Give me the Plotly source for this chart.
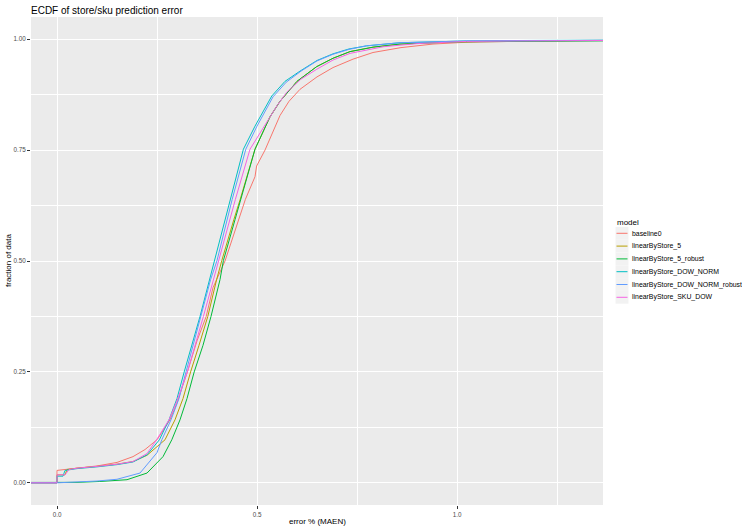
import plotly.graph_objects as go

# ---------------- data ----------------
models = ["baseline0", "linearByStore_5", "linearByStore_5_robust",
          "linearByStore_DOW_NORM", "linearByStore_DOW_NORM_robust",
          "linearByStore_SKU_DOW"]

baseline0_x = [-1, 0, 0, 0.05, 0.10, 0.15, 0.19, 0.22, 0.25, 0.2825, 0.30, 0.326, 0.35, 0.373,
               0.39, 0.42, 0.454, 0.471, 0.495, 0.499, 0.52, 0.5575, 0.58, 0.6075, 0.65, 0.69,
               0.74, 0.79, 0.86, 0.94, 1.02, 1.1075, 1.2, 1.3, 2]
baseline0_y = [0, 0, 0.028, 0.033, 0.038, 0.046, 0.059, 0.075, 0.097, 0.142, 0.18, 0.25, 0.32,
               0.375, 0.44, 0.50, 0.593, 0.639, 0.69, 0.714, 0.75, 0.828, 0.86, 0.887, 0.915,
               0.936, 0.955, 0.970, 0.981, 0.989, 0.993, 0.995, 0.996, 0.997, 1.0]

lbs5_x = [-1, 0, 0, 0.02, 0.025, 0.05, 0.10, 0.15, 0.19, 0.225, 0.27, 0.295, 0.315, 0.334,
          0.355, 0.377, 0.399, 0.412, 0.442, 0.458, 0.495, 0.5325, 0.5575, 0.60, 0.649, 0.69,
          0.7325, 0.79, 0.8575, 1.0, 1.15, 1.3, 2]
lbs5_y = [0, 0, 0.018, 0.018, 0.030, 0.033, 0.037, 0.042, 0.048, 0.062, 0.097, 0.142, 0.19,
          0.25, 0.31, 0.375, 0.458, 0.501, 0.593, 0.639, 0.752, 0.825, 0.86, 0.905, 0.938,
          0.957, 0.972, 0.982, 0.989, 0.994, 0.996, 0.997, 1.0]

lbs5r_x = [-1, 0, 0.05, 0.107, 0.175, 0.225, 0.265, 0.287, 0.3075, 0.325, 0.343, 0.365, 0.385,
           0.4075, 0.416, 0.445, 0.46, 0.495, 0.5325, 0.5575, 0.60, 0.649, 0.69, 0.7325, 0.79,
           0.8575, 1.0, 1.15, 1.3, 2]
lbs5r_y = [0, 0, 0.001, 0.003, 0.007, 0.022, 0.059, 0.097, 0.142, 0.19, 0.25, 0.31, 0.375,
           0.458, 0.501, 0.593, 0.639, 0.752, 0.825, 0.86, 0.905, 0.938, 0.957, 0.972, 0.982,
           0.989, 0.994, 0.996, 0.997, 1.0]

dow_x = [-1, 0, 0, 0.015, 0.02, 0.05, 0.10, 0.15, 0.19, 0.225, 0.256, 0.28, 0.30, 0.318, 0.3575,
         0.381, 0.395, 0.421, 0.434, 0.466, 0.495, 0.537, 0.57, 0.6075, 0.65, 0.69, 0.73, 0.774,
         0.8575, 1.024, 1.15, 1.3, 2]
dow_y = [0, 0, 0.015, 0.015, 0.028, 0.032, 0.036, 0.041, 0.047, 0.063, 0.097, 0.142, 0.19, 0.25,
         0.375, 0.458, 0.501, 0.593, 0.639, 0.752, 0.804, 0.872, 0.905, 0.928, 0.952, 0.967,
         0.978, 0.985, 0.992, 0.996, 0.997, 0.998, 1.0]

dowr_x = [-1, 0, 0.05, 0.10, 0.15, 0.2075, 0.25, 0.262, 0.285, 0.305, 0.3225, 0.36, 0.384, 0.40,
          0.426, 0.438, 0.472, 0.50, 0.54, 0.573, 0.61, 0.65, 0.69, 0.73, 0.774, 0.8575, 1.024,
          1.15, 1.3, 2]
dowr_y = [0, 0, 0.002, 0.004, 0.008, 0.022, 0.068, 0.097, 0.142, 0.19, 0.25, 0.375, 0.458,
          0.501, 0.593, 0.639, 0.752, 0.804, 0.87, 0.903, 0.928, 0.951, 0.966, 0.977, 0.985,
          0.992, 0.996, 0.997, 0.998, 1.0]

sku_x = [-1, 0, 0, 0.02, 0.03, 0.05, 0.10, 0.15, 0.19, 0.225, 0.249, 0.28, 0.30, 0.326, 0.366,
         0.391, 0.403, 0.432, 0.446, 0.4825, 0.524, 0.55, 0.574, 0.61, 0.649, 0.69, 0.7325,
         0.816, 0.9, 1.024, 1.15, 1.3, 2]
sku_y = [0, 0, 0.018, 0.018, 0.03, 0.033, 0.037, 0.042, 0.048, 0.066, 0.097, 0.142, 0.185, 0.25,
         0.375, 0.458, 0.501, 0.593, 0.639, 0.752, 0.814, 0.85, 0.88, 0.91, 0.932, 0.953, 0.968,
         0.983, 0.99, 0.995, 0.996, 0.997, 1.0]

series_x = [baseline0_x, lbs5_x, lbs5r_x, dow_x, dowr_x, sku_x]
series_y = [baseline0_y, lbs5_y, lbs5r_y, dow_y, dowr_y, sku_y]

x_tickvals = [0.0, 0.5, 1.0]
x_ticktext = ["0.0", "0.5", "1.0"]
y_tickvals = [0.0, 0.25, 0.5, 0.75, 1.0]
y_ticktext = ["0.00", "0.25", "0.50", "0.75", "1.00"]

# ---------------- styling ----------------
colors = ["#F8766D", "#B79F00", "#00BA38", "#00BFC4", "#619CFF", "#F564E3"]
FONT = "Liberation Sans, Arial, Helvetica, sans-serif"
W, H = 742, 530
L, R, T, B = 31, 139, 17, 25
pw, ph = W - L - R, H - T - B


def px2x(px):
    return (px - L) / pw


def px2y(py):
    return (H - B - py) / ph


fig = go.Figure()
for name, xs, ys, c in zip(models, series_x, series_y, colors):
    fig.add_trace(go.Scatter(x=xs, y=ys, mode="lines", name=name,
                             line=dict(color=c, width=1), showlegend=False))

fig.update_layout(
    width=W, height=H,
    margin=dict(l=L, r=R, t=T, b=B),
    paper_bgcolor="white", plot_bgcolor="#EBEBEB",
    font=dict(family=FONT, color="#4D4D4D"),
    title=dict(text="ECDF of store/sku prediction error", x=px2x(L), xref="paper",
               xanchor="left", y=1 - 10 / H, yref="container", yanchor="middle",
               font=dict(size=10, color="black", family=FONT)),
    xaxis=dict(range=[-0.065, 1.365], tickvals=x_tickvals, ticktext=x_ticktext,
               showgrid=True, gridcolor="white", gridwidth=1.1, zeroline=False,
               ticks="outside", ticklen=3, tickcolor="#333333", tickwidth=0.8,
               tickfont=dict(size=6.3, color="#4D4D4D"), showline=False,
               minor=dict(tickvals=[0.25, 0.75, 1.25], showgrid=True,
                          gridcolor="white", gridwidth=0.55, ticks="")),
    yaxis=dict(range=[-0.05, 1.05], tickvals=y_tickvals, ticktext=y_ticktext,
               showgrid=True, gridcolor="white", gridwidth=1.1, zeroline=False,
               ticks="outside", ticklen=3, tickcolor="#333333", tickwidth=0.8,
               tickfont=dict(size=6.3, color="#4D4D4D"), showline=False,
               minor=dict(tickvals=[0.125, 0.375, 0.625, 0.875], showgrid=True,
                          gridcolor="white", gridwidth=0.55, ticks="")),
)

# axis titles
fig.add_annotation(text="error % (MAEN)", xref="paper", yref="paper",
                   x=0.5, y=px2y(521), showarrow=False, xanchor="center", yanchor="middle",
                   font=dict(size=8, color="black", family=FONT))
fig.add_annotation(text="fraction of data", xref="paper", yref="paper",
                   x=px2x(8), y=0.5, showarrow=False, textangle=-90,
                   xanchor="center", yanchor="middle",
                   font=dict(size=8, color="black", family=FONT))

# manual ggplot-style legend
fig.add_annotation(text="model", xref="paper", yref="paper", x=px2x(615), y=px2y(222),
                   showarrow=False, xanchor="left", yanchor="middle",
                   font=dict(size=8, color="black", family=FONT))
y0 = 233.3
step = 12.8
for i, (name, c) in enumerate(zip(models, colors)):
    yc = y0 + i * step
    fig.add_shape(type="rect", xref="paper", yref="paper",
                  x0=px2x(615.5), x1=px2x(628.5), y0=px2y(yc - step / 2), y1=px2y(yc + step / 2),
                  fillcolor="#F2F2F2", line=dict(width=0), layer="above")
    fig.add_shape(type="line", xref="paper", yref="paper",
                  x0=px2x(616.5), x1=px2x(627.5), y0=px2y(yc), y1=px2y(yc),
                  line=dict(color=c, width=1), layer="above")
    fig.add_annotation(text=name, xref="paper", yref="paper", x=px2x(629.5), y=px2y(yc),
                       showarrow=False, xanchor="left", yanchor="middle",
                       font=dict(size=6.9, color="black", family=FONT))

fig.write_html("out.html", config={"displayModeBar": False},
               post_script="document.body.style.margin='0';document.body.style.overflow='hidden';")
